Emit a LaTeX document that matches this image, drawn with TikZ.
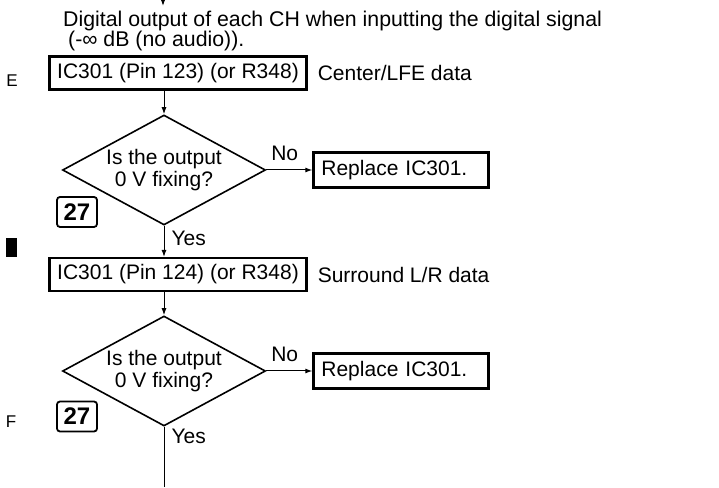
\documentclass[tikz,border=0pt]{standalone}
\usepackage{fontspec}
\setmainfont{Liberation Sans}
\usetikzlibrary{positioning,arrows.meta,shapes.geometric,calc}

\begin{document}
\begin{tikzpicture}[x=1pt, y=1pt,
      every node/.style={font=\fontsize{21}{22}\selectfont},
      block/.style={draw, line width=2.2pt, minimum height=33pt, minimum width=257pt,
                    inner sep=0pt},
      replblock/.style={draw, line width=2.2pt, minimum height=35pt, minimum width=175pt,
                    inner sep=0pt, text width=159pt, align=left},
      decision/.style={draw, diamond, aspect=1.85, line width=1.6pt, minimum width=203pt,
                    minimum height=110pt, inner sep=0pt, align=center},
      tag/.style={draw, line width=1.8pt, rounded corners=3pt, minimum width=40pt,
                    minimum height=30pt, inner sep=0pt, font=\fontsize{24}{24}\selectfont\bfseries},
      note/.style={inner sep=0pt},
      margin/.style={inner sep=0pt, font=\fontsize{17}{18}\selectfont},
      arrow/.style={-{Latex[length=7pt, width=5pt]}, line width=1pt},
      line/.style={line width=1pt}
  ]
  \useasboundingbox (0,0) rectangle (719,487);

  %% ---- Intro ----
  \coordinate (src) at (163,487);
  \coordinate (srcend) at (163,481);
  \node[note, anchor=north west, align=left, font=\fontsize{21.3}{20}\selectfont] (intro) at (63,476)
      {Digital output of each CH when inputting the digital signal\\
       \hspace*{5pt}(-∞ dB (no audio)).};

  %% ---- Center/LFE check ----
  \node[block] (ic123) at (178,414) {IC301 (Pin 123) (or R348)};
  \node[note, right=10pt of ic123] (clfe) {Center/LFE data};
  \node[decision] (dec1) at (164,317) {Is the output\\0 V fixing?};
  \node[replblock, right=46pt of dec1] (rep1) {Replace IC301.};
  \node[tag] (tag1) at (77,275) {27};

  %% ---- Surround L/R check ----
  \node[block] (ic124) at (178,212.5) {IC301 (Pin 124) (or R348)};
  \node[note, right=10pt of ic124] (surr) {Surround L/R data};
  \node[decision] (dec2) at (164,116) {Is the output\\0 V fixing?};
  \node[replblock, right=46pt of dec2] (rep2) {Replace IC301.};
  \node[tag] (tag2) at (77,70.5) {27};
  \coordinate (exit) at (164,0);

  %% ---- Margin marks ----
  \node[margin] (markE) at (12,406) {E};
  \node[margin] (markF) at (11,65) {F};
  \fill (6,230) rectangle (17,249);

  %% ---- Connections ----
  \draw[arrow] (src) -- (srcend);
  \draw[arrow] (ic123.south -| dec1.north) -- (dec1.north);
  \draw[arrow] (dec1.east) -- node[note, above=9pt, pos=0.4] {No} (rep1.west);
  \draw[arrow] (dec1.south) -- node[note, right=7pt, pos=0.4] {Yes} (ic124.north -| dec1.south);
  \draw[arrow] (ic124.south -| dec2.north) -- (dec2.north);
  \draw[arrow] (dec2.east) -- node[note, above=9pt, pos=0.4] {No} (rep2.west);
  \draw[line] (dec2.south) -- node[note, right=7pt, pos=0.16] {Yes} (exit);

\end{tikzpicture}
\end{document}
